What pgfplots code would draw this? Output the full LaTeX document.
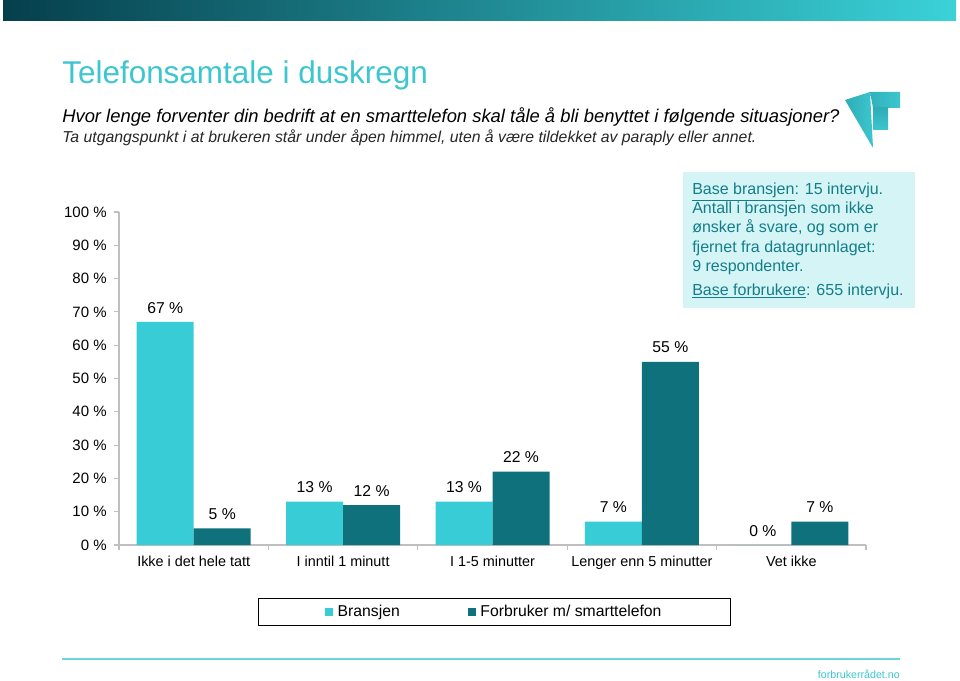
\documentclass[border=0pt]{standalone}
\usepackage{fontspec}
\setmainfont{Liberation Sans}
\usepackage{pgfplots}
\pgfplotsset{compat=1.18}
\definecolor{bcol}{HTML}{38CDD6}
\definecolor{fcol}{HTML}{0E717C}
\definecolor{titlecol}{HTML}{3CC6CF}
\definecolor{boxfill}{HTML}{D5F4F6}
\definecolor{boxtext}{HTML}{137E89}
\definecolor{footcol}{HTML}{6AD6DB}
\definecolor{gA}{HTML}{053F4C}
\definecolor{gB}{HTML}{11757F}
\definecolor{gC}{HTML}{3AD2D8}
\definecolor{axgray}{HTML}{BFBFBF}
\begin{document}
\begin{tikzpicture}[x=0.75pt,y=-0.75pt]
\path[use as bounding box] (0,0) rectangle (960,681);
% top gradient bar
\shade[left color=gA, middle color=gB, right color=gC] (3,1) rectangle (956,21);
% logo
\shade[left color=titlecol!70!fcol, right color=titlecol] (845,100) -- (870,92) -- (873,148) -- cycle;
\shade[left color=titlecol!75!fcol, right color=titlecol] (870,92) -- (900,92) -- (900,108) -- (873,108) -- cycle;
\shade[top color=titlecol!70!fcol, bottom color=titlecol] (873,108) -- (888,108) -- (888,130) -- (873,130) -- cycle;
% titles
\node[anchor=base west, inner sep=0, text=titlecol, font=\fontsize{23.6}{28}\selectfont] at (62,84) {Telefonsamtale i duskregn};
\node[anchor=base west, inner sep=0, font=\fontsize{13.8}{16}\selectfont\itshape] at (62,123) {Hvor lenge forventer din bedrift at en smarttelefon skal tåle å bli benyttet i følgende situasjoner?};
\node[anchor=base west, inner sep=0, text=black!85, font=\fontsize{11.85}{14}\selectfont\itshape] at (62,143) {Ta utgangspunkt i at brukeren står under åpen himmel, uten å være tildekket av paraply eller annet.};
% info box
\fill[boxfill] (683,172) rectangle (915,308);
\begin{scope}[every node/.style={anchor=base west, inner sep=0, text=boxtext, font=\fontsize{12}{14}\selectfont}]
\node at (692,195) {\underline{Base bransjen}: 15 intervju.};
\node at (692,214) {Antall i bransjen som ikke};
\node at (692,233) {ønsker å svare, og som er};
\node at (692,252) {fjernet fra datagrunnlaget:};
\node at (692,271) {9 respondenter.};
\node at (692,295) {\underline{Base forbrukere}: 655 intervju.};
\end{scope}
% footer
\draw[footcol, line width=1.2pt] (62,659) -- (900,659);
\node[anchor=base east, inner sep=0, text=titlecol, font=\fontsize{8}{10}\selectfont] at (900,678) {forbrukerrådet.no};
\begin{axis}[
  scale only axis, width=560.25pt, height=249.75pt,
  at={(89.25pt,-408.75pt)}, anchor=south west,
  xmin=-0.5, xmax=4.5, ymin=0, ymax=100,
  axis x line*=bottom, axis y line*=left,
  axis line style={draw=axgray, line width=0.8pt, -},
  ytick={0,10,...,100},
  yticklabel={\pgfmathprintnumber{\tick}~\%},
  xtick={0,1,2,3,4},
  xticklabels={Ikke i det hele tatt, I inntil 1 minutt, I 1-5 minutter, Lenger enn 5 minutter, Vet ikke},
  minor xtick={-0.5,0.5,1.5,2.5,3.5,4.5},
  tick align=outside,
  major tick length=3.75pt, minor tick length=3.75pt,
  x tick style={draw=none},
  minor x tick style={draw=axgray, line width=0.8pt},
  y tick style={draw=axgray, line width=0.8pt},
  yticklabel style={font=\fontsize{11.25}{13}\selectfont, xshift=-2pt},
  xticklabel style={font=\fontsize{10.8}{13}\selectfont, yshift=-1pt},
  /pgf/number format/assume math mode=true,
  nodes near coords={\pgfmathprintnumber{\pgfplotspointmeta}~\%},
  every node near coord/.append style={font=\fontsize{11.8}{13}\selectfont, text=black, yshift=3pt},
  legend columns=2,
  legend style={at={(0.186,-0.159)}, anchor=north west, draw=black, line width=0.6pt,
    inner xsep=50pt, inner ysep=3pt, font=\fontsize{11.8}{13}\selectfont,
    /tikz/column 2/.style={column sep=49pt},
    /tikz/every odd column/.append style={column sep=1.5pt}},
  clip=false,
]
\addplot[ybar, fill=bcol, draw=none, bar width=42.75pt, bar shift=-21.375pt,
  every node near coord/.append style={xshift=-21.375pt},
  legend image code/.code={\fill[bcol] (0pt,-3pt) rectangle (6pt,3pt);}]
  coordinates {(0,67) (1,13) (2,13) (3,7) (4,0)};
\addlegendentry{Bransjen}
\addplot[ybar, fill=fcol, draw=none, bar width=42.75pt, bar shift=21.375pt,
  every node near coord/.append style={xshift=21.375pt},
  legend image code/.code={\fill[fcol] (0pt,-3pt) rectangle (6pt,3pt);}]
  coordinates {(0,5) (1,12) (2,22) (3,55) (4,7)};
\addlegendentry{Forbruker m/ smarttelefon}
\end{axis}
\end{tikzpicture}
\end{document}
